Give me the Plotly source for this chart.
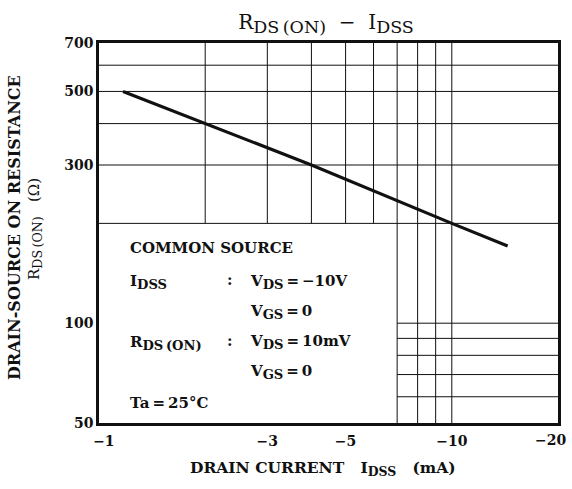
import math

import plotly.graph_objects as go

# ─── Data ─────────────────────────────────────────────────────────────────────

# drain current I_DSS (mA) and on resistance R_DS(ON) (ohm)
idss_ma = [-1.17, -2.0, -4.0, -10.0, -14.4]
rds_on = [500, 400, 300, 200, 171]

x_tickvals = [1, 3, 5, 10, 20]
x_ticktext = ["\u00a0\u00a0\u22121", "\u22123", "\u22125", "\u221210", "\u221220"]
y_tickvals = [50, 100, 300, 500, 700]
y_ticktext = ["50", "100", "300", "500", "700"]

# partial grid of the datasheet sheet (the lower-left part is left blank for the notes)
grid_v_upper = [2, 3, 4, 5, 6, 7, 8, 9, 10]
grid_v_lower = [7, 8, 9, 10]
grid_h_upper = [200, 300, 400, 500, 600]
grid_h_lower = [60, 70, 80, 90, 100]

X_MIN, X_MAX = 1, 20
Y_MIN, Y_MAX, Y_SPLIT = 50, 700, 200

# ─── Style ────────────────────────────────────────────────────────────────────

SERIF = "DejaVu Serif"
INK = "#111111"
TICK_FONT = dict(family=SERIF, size=14, color=INK, weight="bold")

L, R, T, B = 99, 14, 43, 66
W, H = 572, 489


def px_x(px):
    return (px - L) / (W - L - R)


def px_y(py):
    return (H - B - py) / (H - T - B)


def sub(txt, pct=125):
    # plotly shrinks <sub> to 70 %; the datasheet subscripts are nearly full size
    return f'<sub><span style="font-size:{pct}%">{txt}</span></sub>'


def segments(pairs):
    xs, ys = [], []
    for (x0, y0), (x1, y1) in pairs:
        xs += [x0, x1, None]
        ys += [y0, y1, None]
    return xs, ys


grid_pairs = (
    [((v, Y_SPLIT), (v, Y_MAX)) for v in grid_v_upper]
    + [((v, Y_MIN), (v, Y_SPLIT)) for v in grid_v_lower]
    + [((X_MIN, h), (X_MAX, h)) for h in grid_h_upper]
    + [((grid_v_lower[0], h), (X_MAX, h)) for h in grid_h_lower]
)
gx, gy = segments(grid_pairs)

fig = go.Figure()

fig.add_trace(go.Scatter(
    x=gx, y=gy,
    mode="lines",
    line=dict(color=INK, width=1),
    hoverinfo="skip",
    showlegend=False,
))

fig.add_trace(go.Scatter(
    x=[-v for v in idss_ma], y=rds_on,
    mode="lines",
    line=dict(color=INK, width=3.2),
    showlegend=False,
))

EQ = "\u2009=\u2009"
notes = [
    ("COMMON SOURCE", 128, 248),
    ("I" + sub("DSS"), 128, 282),
    (":", 225, 280),
    ("V" + sub("DS") + EQ + "\u221210V", 248, 282),
    ("V" + sub("GS") + EQ + "0", 248, 312),
    ("R" + sub("DS\u2009(ON)"), 128, 343),
    (":", 225, 341),
    ("V" + sub("DS") + EQ + "10mV", 248, 342),
    ("V" + sub("GS") + EQ + "0", 248, 372),
    ("Ta" + EQ + "25\u00b0C", 128, 403),
]

annotations = [
    dict(
        text=txt, x=px_x(xp), y=px_y(yp),
        xref="paper", yref="paper",
        xanchor="left", yanchor="middle",
        showarrow=False,
        font=dict(family=SERIF, size=15, color=INK, weight="bold"),
    )
    for txt, xp, yp in notes
]

# the last x tick label sits flush against the right edge of the sheet
annotations.append(dict(
    text=x_ticktext[-1],
    x=math.log10(x_tickvals[-1]), xref="x", xanchor="right", xshift=10,
    y=px_y(440), yref="paper", yanchor="middle",
    showarrow=False, font=TICK_FONT,
))

# axis titles
annotations += [
    dict(
        text="DRAIN CURRENT\u00a0\u00a0\u00a0I" + sub("DSS", 115) + "\u00a0\u00a0\u00a0(mA)",
        x=px_x(323), y=px_y(468), xref="paper", yref="paper",
        xanchor="center", yanchor="middle", showarrow=False,
        font=dict(family=SERIF, size=15.5, color=INK, weight="bold"),
    ),
    dict(
        text="DRAIN-SOURCE ON RESISTANCE",
        x=px_x(15), y=px_y(228), xref="paper", yref="paper",
        xanchor="center", yanchor="middle", showarrow=False, textangle=-90,
        font=dict(family=SERIF, size=16, color=INK, weight="bold"),
    ),
    dict(
        text="R" + sub("DS\u2009(ON)", 120) + "\u00a0\u00a0\u00a0(\u03a9)",
        x=px_x(35), y=px_y(229), xref="paper", yref="paper",
        xanchor="center", yanchor="middle", showarrow=False, textangle=-90,
        font=dict(family=SERIF, size=15, color=INK),
    ),
]

axis_common = dict(
    type="log",
    automargin=False,
    showgrid=False,
    zeroline=False,
    showline=True,
    mirror=True,
    linecolor=INK,
    linewidth=2.5,
    ticks="",
    tickmode="array",
    tickfont=TICK_FONT,
)

fig.update_layout(
    width=W, height=H,
    margin=dict(l=L, r=R, t=T, b=B),
    paper_bgcolor="white",
    plot_bgcolor="white",
    showlegend=False,
    title=dict(
        text="R" + sub("DS\u2009(ON)") + "\u00a0\u00a0\u2212\u00a0\u00a0I" + sub("DSS"),
        x=326 / W, y=1 - 22 / H,
        xanchor="center", yanchor="middle",
        font=dict(family=SERIF, size=20, color=INK),
    ),
    xaxis=dict(
        **axis_common,
        range=[0, math.log10(X_MAX)],
        tickvals=x_tickvals[:-1], ticktext=x_ticktext[:-1],
        ticklabelstandoff=3,
    ),
    yaxis=dict(
        **axis_common,
        range=[math.log10(Y_MIN), math.log10(Y_MAX)],
        tickvals=y_tickvals, ticktext=y_ticktext,
    ),
    annotations=annotations,
)

# page body has a default 8px margin; drop it so the figure sits at the window origin
fig.write_html(
    "out.html",
    config={"displayModeBar": False},
    post_script="document.body.style.margin = '0';",
)
